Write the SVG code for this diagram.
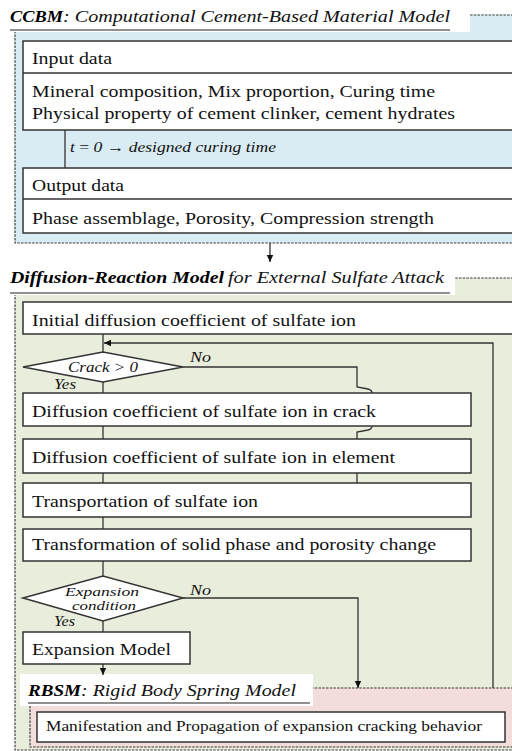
<svg xmlns="http://www.w3.org/2000/svg" width="512" height="751" viewBox="0 0 512 751" font-family="Liberation Serif, serif">
<defs>
<marker id="ah" markerUnits="userSpaceOnUse" markerWidth="8" markerHeight="8" viewBox="0 0 8 8" refX="7" refY="4" orient="auto">
<path d="M0,0.8 L7,4 L0,7.2 Z" fill="#111"/>
</marker>
</defs>
<style>
.panel{stroke:#3c3c3c;stroke-width:1.2;stroke-dasharray:2.5 1.2}
.tbg{fill:#fff}
.box{fill:#fff;stroke:#333;stroke-width:1.5}
.ul{stroke:#222;stroke-width:1.2}
.ln{fill:none;stroke:#333;stroke-width:1.3}
.t{font-size:17.5px;fill:#111}
.ti{font-size:17.5px;font-style:italic;fill:#111}
.tb{font-size:17.5px;font-style:italic;font-weight:bold;fill:#000}
.s{font-size:14.5px;font-style:italic;fill:#111}
.d{font-size:13.5px;font-style:italic;fill:#111}
.m{font-size:15.5px;fill:#111}
</style>

<g id="panel-ccbm">
<rect class="panel" x="15" y="15" width="510" height="228" fill="#daecf3"/>
<rect class="tbg" x="4" y="0" width="466" height="32"/>
<text class="tb" font-family="Liberation Serif" x="10" y="22" textLength="53" lengthAdjust="spacingAndGlyphs">CCBM</text>
<text class="ti" font-family="Liberation Serif" x="63" y="22" textLength="387" lengthAdjust="spacingAndGlyphs">: Computational Cement-Based Material Model</text>
<line class="ul" x1="10" y1="30" x2="450" y2="30"/>
</g>

<g id="panel-drm">
<rect class="panel" x="15" y="278" width="510" height="472" fill="#e9eddc"/>
<rect class="tbg" x="4" y="262" width="451" height="33"/>
<text class="tb" font-family="Liberation Serif" x="10" y="283" textLength="214" lengthAdjust="spacingAndGlyphs">Diffusion-Reaction Model</text>
<text class="ti" font-family="Liberation Serif" x="228" y="283" textLength="216" lengthAdjust="spacingAndGlyphs">for External Sulfate Attack</text>
<line class="ul" x1="10" y1="293" x2="450" y2="293"/>
</g>

<g id="panel-rbsm">
<rect class="panel" x="30" y="688" width="495" height="59" fill="#f2dcdc"/>
<rect class="tbg" x="20" y="674" width="293" height="32"/>
<text class="tb" font-family="Liberation Serif" x="28" y="696" textLength="53" lengthAdjust="spacingAndGlyphs">RBSM</text>
<text class="ti" font-family="Liberation Serif" x="81" y="696" textLength="215" lengthAdjust="spacingAndGlyphs">: Rigid Body Spring Model</text>
<line class="ul" x1="28" y1="703" x2="310" y2="703"/>
</g>

<g id="connectors">
<line class="ln" x1="65" y1="130" x2="65" y2="168"/>
<line class="ln" x1="270" y1="243" x2="270" y2="262" marker-end="url(#ah)"/>
<line class="ln" x1="103" y1="334" x2="103" y2="352"/>
<path class="ln" d="M493,688 V343 H104" marker-end="url(#ah)"/>
<line class="ln" x1="103" y1="382" x2="103" y2="393"/>
<path class="ln" d="M183,367 H357 V387 L368,389 Q372,390 372,393"/>
<path class="ln" d="M372,426 Q372,429 368,430 L357,432 V483"/>
<line class="ln" x1="103" y1="426" x2="103" y2="439"/>
<line class="ln" x1="103" y1="473" x2="103" y2="483"/>
<line class="ln" x1="103" y1="517" x2="103" y2="529"/>
<line class="ln" x1="103" y1="561" x2="103" y2="576"/>
<path class="ln" d="M183,598 H358 V688" marker-end="url(#ah)"/>
<line class="ln" x1="103" y1="621" x2="103" y2="632"/>
<line class="ln" x1="103" y1="664" x2="103" y2="675" marker-end="url(#ah)"/>
</g>

<g id="input-data">
<rect class="box" x="23" y="41" width="500" height="89"/>
<line class="ln" x1="23" y1="73" x2="523" y2="73"/>
<text class="t" font-family="Liberation Serif" x="32" y="64" textLength="80" lengthAdjust="spacingAndGlyphs">Input data</text>
<text class="t" font-family="Liberation Serif" x="32" y="97" textLength="403" lengthAdjust="spacingAndGlyphs">Mineral composition, Mix proportion, Curing time</text>
<text class="t" font-family="Liberation Serif" x="32" y="119" textLength="423" lengthAdjust="spacingAndGlyphs">Physical property of cement clinker, cement hydrates</text>
</g>

<g id="curing-label">
<text class="s" font-family="Liberation Serif" x="70" y="152" textLength="206" lengthAdjust="spacingAndGlyphs"><tspan>t</tspan><tspan font-style="normal"> = </tspan><tspan>0 </tspan><tspan font-style="normal">→</tspan><tspan> designed curing time</tspan></text>
</g>

<g id="output-data">
<rect class="box" x="23" y="168" width="500" height="65"/>
<line class="ln" x1="23" y1="199" x2="523" y2="199"/>
<text class="t" font-family="Liberation Serif" x="32" y="191" textLength="92" lengthAdjust="spacingAndGlyphs">Output data</text>
<text class="t" font-family="Liberation Serif" x="32" y="224" textLength="402" lengthAdjust="spacingAndGlyphs">Phase assemblage, Porosity, Compression strength</text>
</g>

<g id="initial-diffusion">
<rect class="box" x="23" y="302" width="500" height="32"/>
<text class="t" font-family="Liberation Serif" x="32" y="326" textLength="324" lengthAdjust="spacingAndGlyphs">Initial diffusion coefficient of sulfate ion</text>
</g>

<g id="crack-decision">
<polygon class="box" points="23,367 103,352 183,367 103,382"/>
<text class="s" font-family="Liberation Serif" x="68" y="372" textLength="70" lengthAdjust="spacingAndGlyphs">Crack &gt; 0</text>
<text class="s" font-family="Liberation Serif" x="190" y="362" textLength="21" lengthAdjust="spacingAndGlyphs">No</text>
<text class="s" font-family="Liberation Serif" x="54" y="389" textLength="22" lengthAdjust="spacingAndGlyphs">Yes</text>
</g>

<g id="diffusion-crack">
<rect class="box" x="23" y="393" width="448" height="33"/>
<text class="t" font-family="Liberation Serif" x="32" y="417" textLength="344" lengthAdjust="spacingAndGlyphs">Diffusion coefficient of sulfate ion in crack</text>
</g>

<g id="diffusion-element">
<rect class="box" x="23" y="439" width="448" height="34"/>
<text class="t" font-family="Liberation Serif" x="32" y="463" textLength="363" lengthAdjust="spacingAndGlyphs">Diffusion coefficient of sulfate ion in element</text>
</g>

<g id="transportation">
<rect class="box" x="23" y="483" width="448" height="34"/>
<text class="t" font-family="Liberation Serif" x="32" y="507" textLength="226" lengthAdjust="spacingAndGlyphs">Transportation of sulfate ion</text>
</g>

<g id="transformation">
<rect class="box" x="23" y="529" width="448" height="32"/>
<text class="t" font-family="Liberation Serif" x="32" y="550" textLength="404" lengthAdjust="spacingAndGlyphs">Transformation of solid phase and porosity change</text>
</g>

<g id="expansion-decision">
<polygon class="box" points="23,598 103,576 183,598 103,621"/>
<text class="d" font-family="Liberation Serif" x="65" y="596" textLength="74" lengthAdjust="spacingAndGlyphs">Expansion</text>
<text class="d" font-family="Liberation Serif" x="72" y="610" textLength="64" lengthAdjust="spacingAndGlyphs">condition</text>
<text class="s" font-family="Liberation Serif" x="190" y="595" textLength="21" lengthAdjust="spacingAndGlyphs">No</text>
<text class="s" font-family="Liberation Serif" x="54" y="626" textLength="21" lengthAdjust="spacingAndGlyphs">Yes</text>
</g>

<g id="expansion-model">
<rect class="box" x="23" y="632" width="167" height="32"/>
<text class="t" font-family="Liberation Serif" x="32" y="655" textLength="139" lengthAdjust="spacingAndGlyphs">Expansion Model</text>
</g>

<g id="manifestation">
<rect class="box" x="37" y="712" width="468" height="30"/>
<text class="m" font-family="Liberation Serif" x="46" y="731" textLength="436" lengthAdjust="spacingAndGlyphs">Manifestation and Propagation of expansion cracking behavior</text>
</g>
</svg>
